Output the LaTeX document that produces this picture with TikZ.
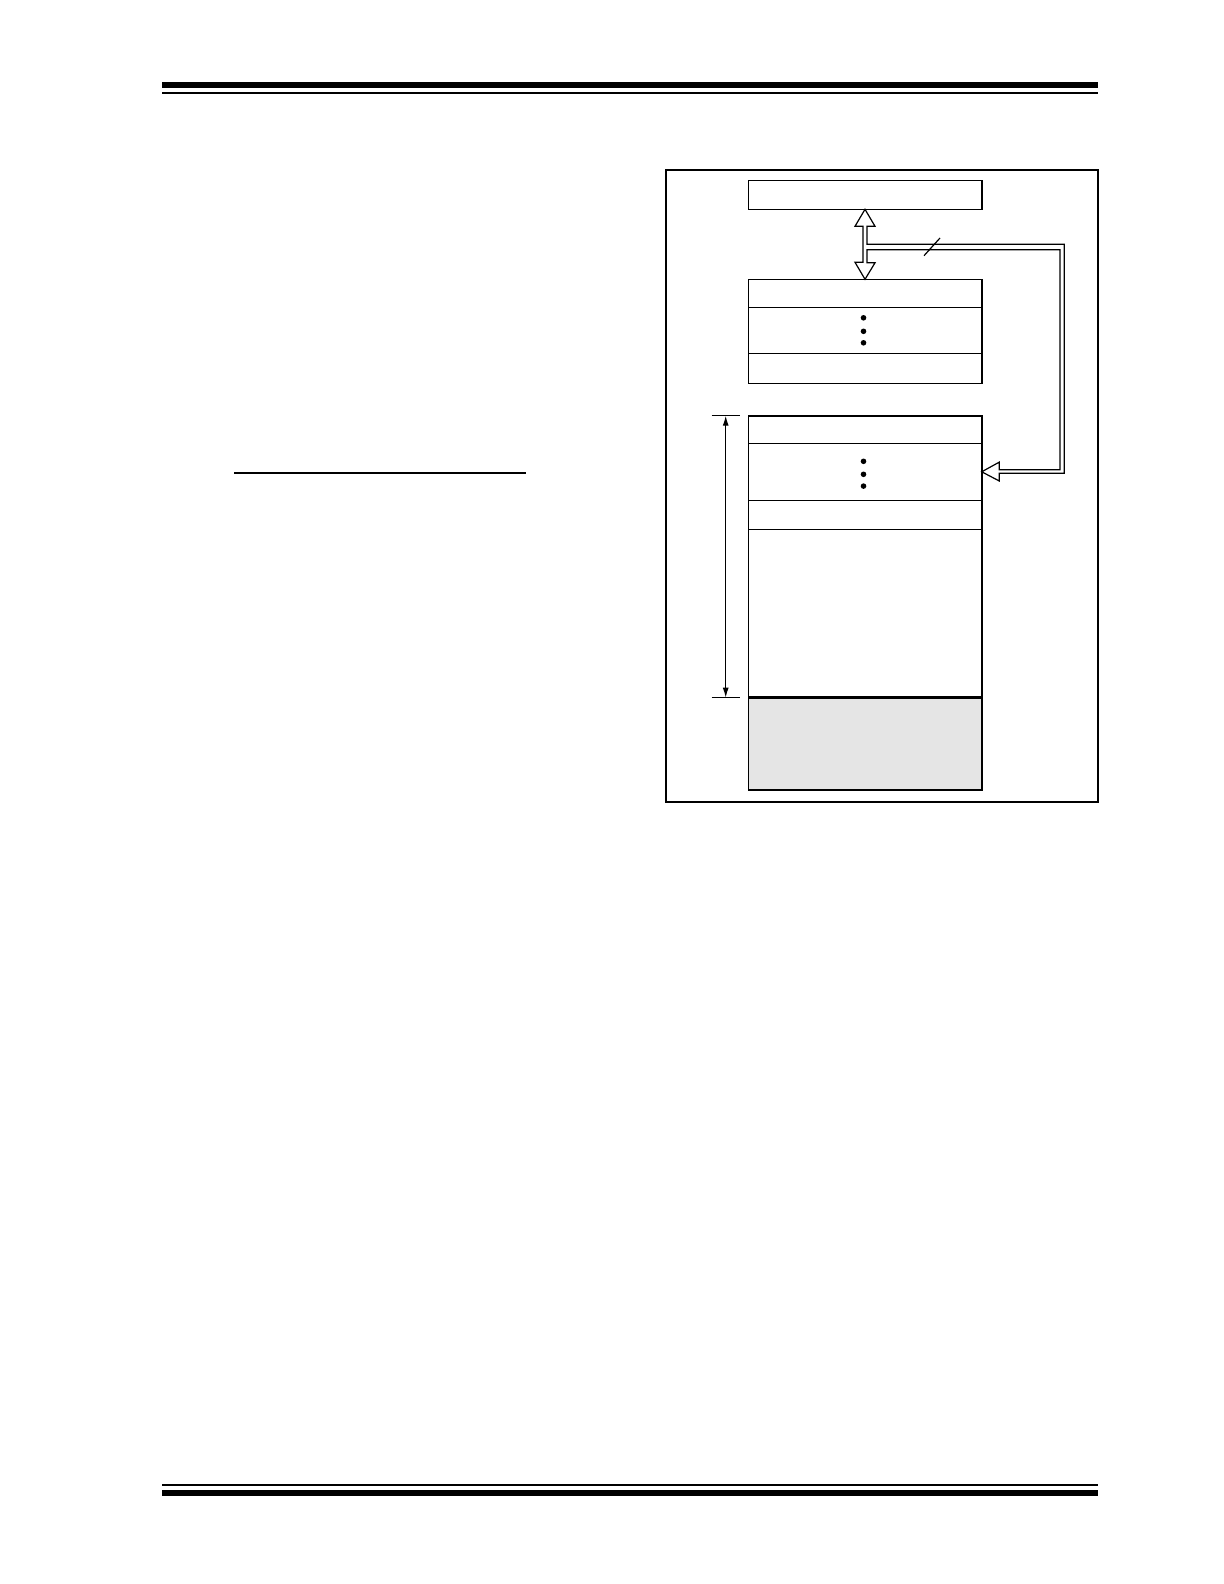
\documentclass[tikz,border=0pt]{standalone}
\usetikzlibrary{positioning,arrows.meta,calc}
\tikzset{
	cell/.style={draw, line width=0.8pt, minimum width=116.7pt, inner sep=0pt, outer sep=0pt},
	bus/.style={draw, fill=white, line width=0.6pt, line join=miter},
	rule/.style={line width=#1, line cap=butt}
}
\begin{document}
\begin{tikzpicture}[x=0.5pt, y=-0.5pt]
		\useasboundingbox (0,0) rectangle (1224,1584);
		\draw[rule=3pt] (162,85) -- (1098,85);
		\draw[rule=1pt] (162,93) -- (1098,93);
		\draw[rule=1pt] (162,1485) -- (1098,1485);
		\draw[rule=3pt] (162,1492.7) -- (1098,1492.7);
		\draw[line width=0.6pt] (234,473) -- (525.7,473);
		\draw[line width=0.9pt] (666.3,170) rectangle (1097.7,801.7);
		\node[cell, minimum height=14.5pt] (pc) at (865,194.8) {};
		\node[cell, minimum height=14pt, anchor=north] (stk1) at (865,279.3) {};
		\node[cell, minimum height=23pt, below=0pt of stk1] (stk2) {};
		\node[cell, minimum height=15pt, below=0pt of stk2] (stk3) {};
		\node[cell, minimum height=13.8pt, anchor=north] (mem1) at (865,415.7) {};
		\node[cell, minimum height=28.5pt, below=0pt of mem1] (mem2) {};
		\node[cell, minimum height=14.5pt, below=0pt of mem2] (mem3) {};
		\node[cell, minimum height=84.2pt, below=0pt of mem3] (mem4) {};
		\node[cell, minimum height=46.15pt, below=0pt of mem4, fill=black!10] (mem5) {};
		\draw[line width=1.3pt] (mem5.north west) -- (mem5.north east);
		\foreach \dy in {-12.5,1,12.5}
			\fill ($(stk2.center)+(-1.5,\dy)$) circle (1.4pt);
		\foreach \dy in {-10.5,2.5,14.3}
			\fill ($(mem2.center)+(-1.5,\dy)$) circle (1.4pt);
		\path[bus] (pc.south) -- ++(10,17) -- ++(-8,0) -- ++(0,18) -- ++(197.3,0)
			-- ++(0,229) -- ++(-65,0) -- ++(0,7.7) -- (mem2.east) -- ++(17.6,-9.7)
			-- ++(0,7.7) -- ++(60.7,0) -- ++(0,-220) -- ++(-193,0) -- ++(0,13)
			-- ++(8,0) -- (stk1.north) -- ++(-10,-17) -- ++(8,0) -- ++(0,-36)
			-- ++(-8,0) -- cycle;
		\draw[line width=0.6pt] ($(pc.south)+(59,46.4)$) -- ++(16,-17.7);
		\coordinate (dimT) at ($(mem1.north west)+(-22.6,0)$);
		\coordinate (dimB) at ($(mem5.north west)+(-22.6,0)$);
		\draw[line width=0.6pt] ($(dimT)+(-14,0)$) -- ++(28,0);
		\draw[line width=0.6pt] ($(dimB)+(-14,0)$) -- ++(28,0);
		\draw[line width=0.6pt, {Latex[length=5pt,width=3pt]}-{Latex[length=5pt,width=3pt]}] (dimT) -- (dimB);
	\end{tikzpicture}
\end{document}
